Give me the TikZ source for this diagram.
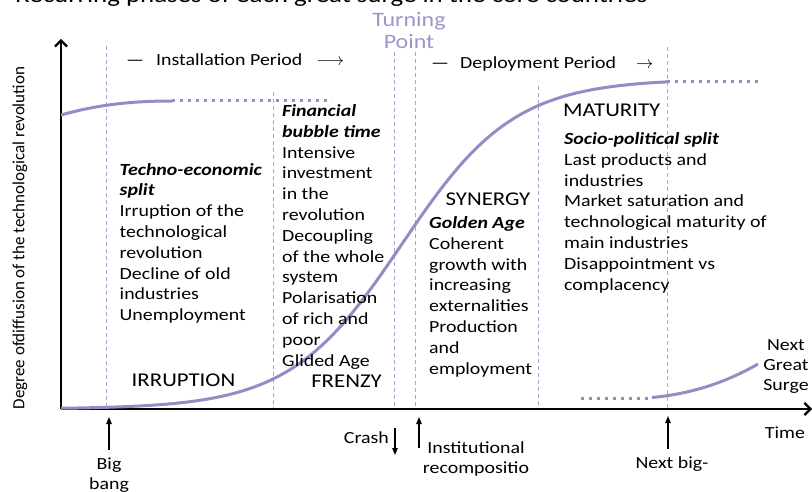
\documentclass[tikz,border=0pt]{standalone}
\usepackage{fontspec}
\setmainfont{Carlito}[FakeStretch=1.17]
\newfontfamily\axisfont{Carlito}
\usetikzlibrary{arrows.meta}
\definecolor{surge}{RGB}{146,141,196}
\definecolor{phase}{RGB}{168,164,214}
\definecolor{turn}{RGB}{154,150,204}
\newcommand{\phasekey}[1]{\textbf{\textit{#1}}}

\begin{document}
\begin{tikzpicture}[x=1pt,y=-1pt,
  body_text/.style={anchor=base west,inner sep=0pt,align=left,font=\fontsize{17}{20.8}\selectfont},
  phase_name/.style={anchor=base,inner sep=0pt,font=\fontsize{19.5}{22}\selectfont},
  small_text/.style={anchor=base,inner sep=0pt,align=center,font=\fontsize{17}{20}\selectfont},
  phase_line/.style={phase,line width=0.9pt,dash pattern=on 4pt off 3pt},
  surge_line/.style={surge,line width=3pt},
  surge_dots/.style={surge,line width=3pt,dash pattern=on 3pt off 5pt},
  axis_line/.style={line width=2.2pt,-{Straight Barb[length=6pt,width=12pt]}},
  event_arrow/.style={line width=1.1pt,-{Triangle[length=7pt,width=5.5pt]}}]

    \useasboundingbox (0,0) rectangle (812,492);

    \node[anchor=base west,inner sep=0pt,font=\fontsize{23}{27}\selectfont] (title) at (15,3) {Recurring phases of each great surge in the core countries};
    \node[anchor=base,inner sep=0pt,align=center,text=turn,font=\fontsize{20.5}{21.7}\selectfont] (turning) at (409,48.3) {Turning\\Point};

    \foreach \x/\top in {106/46, 273/92, 394/52, 415/52, 538/86, 667/47}
        \draw[phase_line] (\x,\top) -- (\x,409);

    \coordinate (origin) at (61,409);
    \coordinate (ytop) at (61,39);
    \coordinate (xend) at (812,409);
    \draw[axis_line] (origin) -- (ytop);
    \draw[axis_line] (origin) -- (xend);

    \draw[surge_line] (61,115) .. controls (100,104) and (135,101) .. (172,101);
    \draw[surge_dots] (172,101) -- (332,101);
    \draw[surge_line] plot[domain=61:667,samples=120] (\x,{409-330/(1+exp(-(\x-402)/56))});
    \draw[surge_dots] (667,82) -- (762,82);
    \draw[surge_dots] (581,398) -- (652,398);
    \draw[surge_line] (652,397.5) .. controls (690,394) and (725,383) .. (758,364);

    \node[body_text] (install) at (126,66) {---\hspace{12pt}Installation Period\hspace{14pt}$\longrightarrow$};
    \node[body_text] (deploy) at (431,69) {---\hspace{11pt}Deployment Period\hspace{20pt}$\rightarrow$};

    \node[body_text] (split) at (119.5,320.7) {\phasekey{Techno-economic}\\\phasekey{split}\\Irruption of the\\technological\\revolution\\Decline of old\\industries\\Unemployment};
    \node[body_text] (bubble) at (282,366) {\phasekey{Financial}\\\phasekey{bubble time}\\Intensive\\investment\\in the\\revolution\\Decoupling\\of the whole\\system\\Polarisation\\of rich and\\poor\\Glided Age};
    \node[body_text] (golden) at (429,374) {\phasekey{Golden Age}\\Coherent\\growth with\\increasing\\externalities\\Production\\and\\employment};
    \node[body_text] (socio) at (564,290) {\phasekey{Socio-political split}\\Last products and\\industries\\Market saturation and\\technological maturity of\\main industries\\Disappointment vs\\complacency};

    \node[phase_name] (irruption) at (183.5,386) {IRRUPTION};
    \node[phase_name] (frenzy) at (346.5,387) {FRENZY};
    \node[phase_name] (synergy) at (488,205.7) {SYNERGY};
    \node[phase_name,anchor=base west] (maturity) at (563,116.7) {MATURITY};

    \node[anchor=center,inner sep=0pt,rotate=90,font=\axisfont\fontsize{17}{20}\selectfont] (ylabel) at (20,238) {Degree ofdiffusion of the technological revolution};
    \node[small_text] (time) at (785,438) {Time};
    \node[small_text] (nextsurge) at (786,390) {Next\\Great\\Surge};

    \node[small_text] (bigbang) at (109,489) {Big\\bang};
    \node[small_text,anchor=base east] (crash) at (389,443) {Crash};
    \node[small_text] (instit) at (476,473) {Institutional\\recompositio};
    \node[small_text] (nextbig) at (672,468) {Next big-};

    \coordinate (bb_tip) at (109,417);
    \coordinate (crash_a) at (395,428);
    \coordinate (crash_b) at (395,455);
    \coordinate (inst_a) at (419,448);
    \coordinate (inst_b) at (419,417);
    \coordinate (nb_tip) at (668,416);
    \draw[event_arrow] ([yshift=7pt]bigbang.north) -- (bb_tip);
    \draw[event_arrow] (crash_a) -- (crash_b);
    \draw[event_arrow] (inst_a) -- (inst_b);
    \draw[event_arrow] ([xshift=-4pt,yshift=7pt]nextbig.north) -- (nb_tip);

\end{tikzpicture}
\end{document}
